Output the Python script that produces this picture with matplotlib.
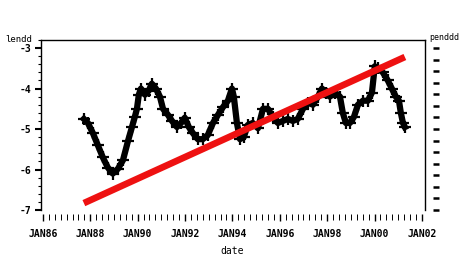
import matplotlib
matplotlib.use("Agg")
import matplotlib.pyplot as plt
from matplotlib.ticker import MultipleLocator, FixedLocator, FixedFormatter
import numpy as np

# black series (lendd) : decimal-year dates and values
dates = [1987.73, 1987.90, 1988.11, 1988.32, 1988.53, 1988.74, 1988.95, 1989.17,
         1989.38, 1989.59, 1989.76, 1989.88, 1989.97, 1990.05, 1990.14, 1990.31,
         1990.47, 1990.60, 1990.77, 1990.94, 1991.07, 1991.28, 1991.45, 1991.66,
         1991.83, 1991.99, 1992.16, 1992.33, 1992.54, 1992.75, 1992.96, 1993.18,
         1993.39, 1993.60, 1993.81, 1993.98, 1994.06, 1994.19, 1994.32, 1994.48,
         1994.65, 1994.86, 1995.08, 1995.29, 1995.50, 1995.71, 1995.92, 1996.13,
         1996.34, 1996.55, 1996.76, 1996.98, 1997.19, 1997.40, 1997.61, 1997.78,
         1997.95, 1998.11, 1998.33, 1998.54, 1998.66, 1998.79, 1998.96, 1999.13,
         1999.30, 1999.51, 1999.72, 1999.89, 2000.01, 2000.14, 2000.35, 2000.56,
         2000.73, 2000.90, 2001.03, 2001.11, 2001.20, 2001.28]
lendd = [-4.75, -4.85, -5.10, -5.40, -5.70, -5.95, -6.10, -5.98,
         -5.77, -5.30, -4.95, -4.70, -4.50, -4.15, -4.00, -4.15,
         -4.05, -3.88, -4.00, -4.20, -4.50, -4.65, -4.80, -4.95,
         -4.85, -4.72, -4.95, -5.10, -5.25, -5.25, -5.15, -4.85,
         -4.65, -4.46, -4.30, -4.00, -4.20, -4.85, -5.25, -5.20,
         -4.90, -4.85, -4.98, -4.50, -4.50, -4.70, -4.85, -4.80,
         -4.75, -4.80, -4.75, -4.50, -4.35, -4.40, -4.20, -4.00,
         -4.10, -4.20, -4.10, -4.20, -4.60, -4.85, -4.85, -4.70,
         -4.40, -4.30, -4.30, -4.10, -3.45, -3.50, -3.60, -3.80,
         -4.00, -4.20, -4.30, -4.60, -4.85, -4.95]

# red trend series (penddd)
trend_dates = [1987.73, 2001.28]
penddd = [-6.83, -3.22]

year_ticks = list(range(1986, 2003, 2))
year_labels = ["JAN86", "JAN88", "JAN90", "JAN92", "JAN94", "JAN96", "JAN98", "JAN00", "JAN02"]
left_ticks = [-7, -6, -5, -4, -3]

W, H = 461, 259
fig = plt.figure(figsize=(W / 100, H / 100), dpi=100)
ax = fig.add_axes([41 / W, 1 - 210 / H, 384 / W, 170 / H])

mono = "DejaVu Sans Mono"

ax.plot(dates, lendd, color="black", lw=4.5, marker="+", ms=8, mew=1.6, zorder=3)
ax.plot(trend_dates, penddd, color="#ee1111", lw=4.8, solid_capstyle="butt", zorder=4)

ax.set_xlim(1985.92, 2002.13)
ax.set_ylim(-7.0, -2.8)

ax.xaxis.set_major_locator(FixedLocator(year_ticks))
ax.xaxis.set_major_formatter(FixedFormatter(year_labels))
ax.xaxis.set_minor_locator(MultipleLocator(0.25))
ax.set_yticks(left_ticks)
ax.set_yticklabels([str(t) for t in left_ticks])
ax.yaxis.set_minor_locator(MultipleLocator(0.2))

ax.spines["bottom"].set_position(("outward", 3))
ax.spines["bottom"].set_visible(False)
for s in ["top", "left", "right"]:
    ax.spines[s].set_linewidth(1.0)

ax.tick_params(axis="x", which="major", direction="out", length=5, width=1, pad=6,
               labelsize=7)
ax.tick_params(axis="x", which="minor", direction="out", length=4, width=0.7)
ax.tick_params(axis="y", which="major", direction="out", length=4, width=1.5, pad=3,
               labelsize=7)
ax.tick_params(axis="y", which="minor", direction="out", length=2.5, width=0.8)
for lab in ax.get_xticklabels() + ax.get_yticklabels():
    lab.set_family(mono)
    lab.set_fontweight("bold")

ax2 = ax.twinx()
ax2.set_ylim(-7.0, -2.8)
ax2.yaxis.set_major_locator(FixedLocator(np.linspace(-7, -3, 15)))
ax2.set_yticklabels([])
ax2.spines["right"].set_position(("outward", 6))
ax2.spines["right"].set_visible(False)
for s in ["top", "left", "bottom"]:
    ax2.spines[s].set_visible(False)
ax2.tick_params(axis="y", direction="out", length=4, width=1.8)

fig.text(5 / W, 1 - 39 / H, "lendd", family=mono, fontsize=6.5, ha="left", va="center")
fig.text(429 / W, 1 - 38 / H, "penddd", family=mono, fontsize=6, ha="left", va="center")
fig.text(232 / W, 1 - 251 / H, "date", family=mono, fontsize=7, ha="center", va="center")

fig.savefig("out.png", dpi=100)
